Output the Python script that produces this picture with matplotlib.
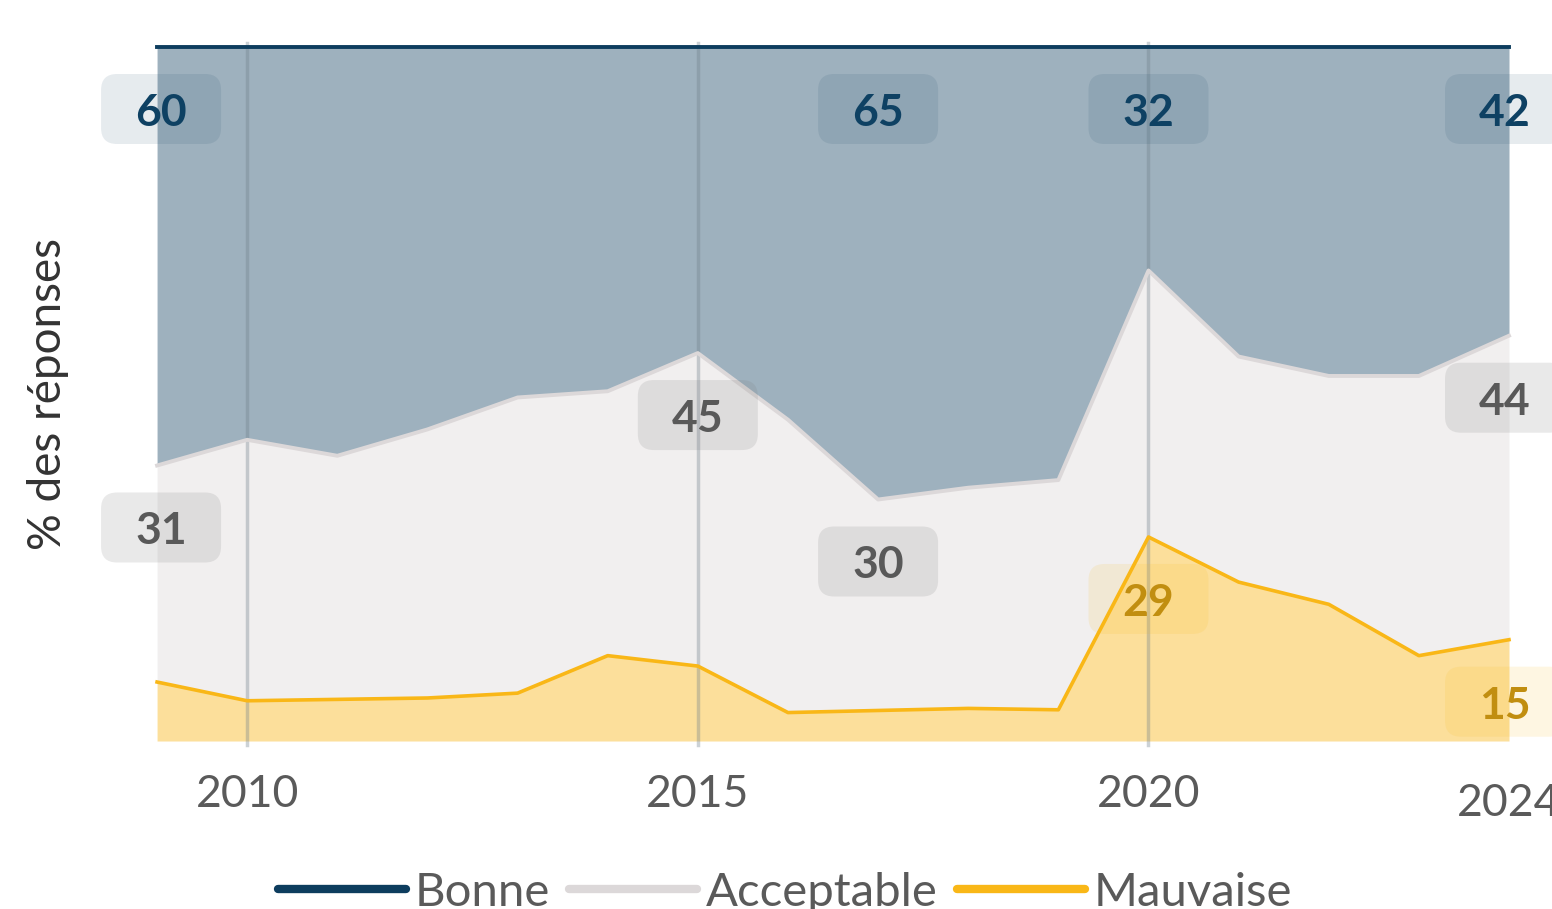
import matplotlib
matplotlib.use("Agg")
import matplotlib.pyplot as plt
from matplotlib.lines import Line2D
from matplotlib.patches import BoxStyle
from matplotlib.colors import to_rgba
import numpy as np

plt.rcParams['font.family'] = ['Lato', 'DejaVu Sans']

# data (% des réponses)
years = list(range(2009, 2025))
mauvaise = [8.5, 5.8, 6.0, 6.2, 6.9, 12.3, 10.8, 4.1, 4.4, 4.7, 4.5, 29.4, 22.9, 19.7, 12.3, 14.6]
acceptable = [31.2, 37.6, 35.1, 38.7, 42.6, 38.1, 45.1, 42.2, 30.4, 31.8, 33.1, 38.4, 32.5, 32.9, 40.3, 43.8]
bonne = [60.3, 56.6, 58.9, 55.1, 50.5, 49.6, 44.1, 53.7, 65.2, 63.5, 62.4, 32.2, 44.6, 47.4, 47.4, 41.6]

series_names = ["Bonne", "Acceptable", "Mauvaise"]
label_years = {
    "Bonne": [2009, 2017, 2020, 2024],
    "Acceptable": [2009, 2015, 2017, 2024],
    "Mauvaise": [2020, 2024],
}
tick_years = [2010, 2015, 2020]

line_colors = {"Bonne": "#0d3d5e", "Acceptable": "#dcd8d9", "Mauvaise": "#f9b717"}
text_colors = {"Bonne": "#0e4163", "Acceptable": "#595959", "Mauvaise": "#c18e10"}
box_colors = {"Bonne": to_rgba("#0d3d5e", 0.1),
              "Acceptable": to_rgba("#7f7f7f", 0.17),
              "Mauvaise": to_rgba("#f9b717", 0.12)}

fig = plt.figure(figsize=(15.52, 9.09), dpi=100)
ax = fig.add_axes([0.1012, 0.1848, 0.8711, 0.7635])

yrs = np.array(years)
m = np.array(mauvaise)
a = np.array(acceptable)
b = np.array(bonne)
tops = {"Mauvaise": m, "Acceptable": m + a, "Bonne": m + a + b}
bottoms = {"Mauvaise": np.zeros_like(m), "Acceptable": m, "Bonne": m + a}
values = {"Mauvaise": m, "Acceptable": a, "Bonne": b}

fill_alpha = {"Bonne": 0.4, "Acceptable": 0.4, "Mauvaise": 0.43}
for name in series_names:
    ax.fill_between(yrs, bottoms[name], tops[name], color=line_colors[name],
                    alpha=fill_alpha[name], lw=0, zorder=1)

for yr in tick_years:
    ax.axvline(yr, ymin=-0.006, ymax=1.006, color="#6f7f8a", alpha=0.35,
               lw=2.5, clip_on=False, zorder=1.5)

line_widths = {"Bonne": 2.8, "Acceptable": 2.8, "Mauvaise": 2.6}
for name in ["Mauvaise", "Acceptable", "Bonne"]:
    ax.plot(yrs, tops[name], color=line_colors[name], lw=line_widths[name],
            clip_on=False, zorder=2, solid_joinstyle="round")


def label_box(x0, y0, width, height, mutation_size):
    cx = x0 + width / 2
    cy = y0 + height / 2 + 4
    return BoxStyle.Round(pad=0, rounding_size=16)(cx - 60, cy - 35, 120, 70, 1)


for name in series_names:
    for yr in label_years[name]:
        i = years.index(yr)
        # edge labels are pulled slightly inward
        dx = 4 if yr == years[0] else (-4 if yr == years[-1] else 0)
        ax.annotate(f"{values[name][i]:.0f}", xy=(yr, tops[name][i]),
                    xytext=(dx, -66), textcoords="offset pixels",
                    ha="center", va="center", fontsize=32, fontweight="bold",
                    color=text_colors[name], annotation_clip=False, zorder=3,
                    bbox=dict(boxstyle=label_box, fc=box_colors[name], ec="none"))

ax.set_xlim(2009, 2024)
ax.set_ylim(0, 100)
ax.set_xticks(tick_years)
ax.set_xticklabels([str(t) for t in tick_years])
ax.tick_params(axis="x", length=0, pad=24, labelsize=32, labelcolor="#5a5a5a")
ax.set_yticks([])
ax.text(2024, -0.09, "2024", transform=ax.get_xaxis_transform(), ha="center",
        va="center", fontsize=32, color="#5a5a5a", clip_on=False)
for s in ax.spines.values():
    s.set_visible(False)

ax.set_ylabel("% des réponses", fontsize=33, color="#333333")
ax.yaxis.set_label_coords(-0.065, 0.5)

handles = [Line2D([], [], color=line_colors[n], lw=6, solid_capstyle="round")
           for n in series_names]
fig.legend(handles, series_names, loc="center", bbox_to_anchor=(0.506, 0.018),
           ncol=3, frameon=False, fontsize=34, handlelength=2.7,
           handletextpad=0.2, columnspacing=0.4, labelcolor="#5a5a5a")

fig.savefig("out.png", dpi=100)
